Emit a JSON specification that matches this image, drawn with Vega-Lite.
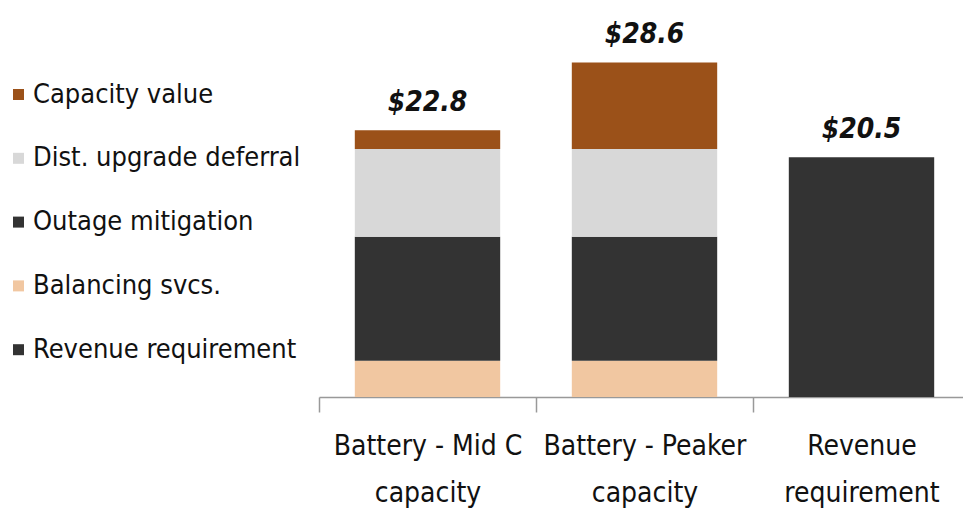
{
  "$schema": "https://vega.github.io/schema/vega-lite/v6.json",
  "autosize": "none",
  "width": 651,
  "height": 351,
  "padding": {"left": 319, "top": 46, "right": 0, "bottom": 116},
  "background": "white",
  "config": {"view": {"stroke": null}, "font": "DejaVu Sans Condensed, Liberation Sans, sans-serif"},
  "datasets": {
    "parts": [
      {"category": "Battery - Mid C capacity", "component": "Balancing svcs.", "rank": 1, "value": 3.1},
      {"category": "Battery - Mid C capacity", "component": "Outage mitigation", "rank": 2, "value": 10.6},
      {"category": "Battery - Mid C capacity", "component": "Dist. upgrade deferral", "rank": 3, "value": 7.5},
      {"category": "Battery - Mid C capacity", "component": "Capacity value", "rank": 4, "value": 1.6},
      {"category": "Battery - Peaker capacity", "component": "Balancing svcs.", "rank": 1, "value": 3.1},
      {"category": "Battery - Peaker capacity", "component": "Outage mitigation", "rank": 2, "value": 10.6},
      {"category": "Battery - Peaker capacity", "component": "Dist. upgrade deferral", "rank": 3, "value": 7.5},
      {"category": "Battery - Peaker capacity", "component": "Capacity value", "rank": 4, "value": 7.4},
      {"category": "Revenue requirement", "component": "Revenue requirement", "rank": 1, "value": 20.5}
    ],
    "totals": [
      {"category": "Battery - Mid C capacity", "total": 22.8, "label": "$22.8"},
      {"category": "Battery - Peaker capacity", "total": 28.6, "label": "$28.6"},
      {"category": "Revenue requirement", "total": 20.5, "label": "$20.5"}
    ]
  },
  "layer": [
    {
      "data": {"name": "parts"},
      "mark": {"type": "bar"},
      "encoding": {
        "x": {
          "field": "category", "type": "nominal", "sort": null,
          "scale": {"paddingInner": 0.33, "paddingOuter": 0.165},
          "axis": {
            "title": null, "labelAngle": 0, "labelFontSize": 28, "labelColor": "#111",
            "labelLineHeight": 47, "labelPadding": 20, "labelBaseline": "top",
            "domainColor": "#999", "domainWidth": 1.5, "tickColor": "#999", "tickWidth": 1.5,
            "tickSize": 15, "tickOffset": -108.5, "labelOffset": 108.5, "labelLimit": 300,
            "labelExpr": "datum.value === 'Battery - Mid C capacity' ? ['Battery - Mid C', 'capacity'] : datum.value === 'Battery - Peaker capacity' ? ['Battery - Peaker', 'capacity'] : datum.value === 'Revenue requirement' ? ['Revenue', 'requirement'] : ''"
          }
        },
        "y": {
          "field": "value", "type": "quantitative", "stack": "zero",
          "scale": {"domain": [0, 30], "nice": false},
          "axis": null
        },
        "order": {"field": "rank", "type": "quantitative"},
        "color": {
          "field": "component", "type": "nominal",
          "scale": {
            "domain": ["Capacity value", "Dist. upgrade deferral", "Outage mitigation", "Balancing svcs.", "Revenue requirement"],
            "range": ["#9B5119", "#D8D8D8", "#333333", "#F1C7A1", "#333333"]
          },
          "legend": {
            "title": null, "orient": "none", "legendX": -314, "legendY": 35,
            "symbolType": "square", "symbolSize": 121, "symbolStrokeWidth": 0,
            "symbolOpacity": 1,
            "labelFontSize": 27, "labelColor": "#111",
            "labelOffset": 1, "rowPadding": 35.8, "labelLimit": 400
          }
        }
      }
    },
    {
      "data": {"name": "totals"},
      "mark": {"type": "text", "fontSize": 28, "fontWeight": "bold", "fontStyle": "italic", "baseline": "bottom", "dy": -13, "color": "#111"},
      "encoding": {
        "x": {"field": "category", "type": "nominal", "sort": null},
        "y": {"field": "total", "type": "quantitative"},
        "text": {"field": "label"}
      }
    }
  ]
}
